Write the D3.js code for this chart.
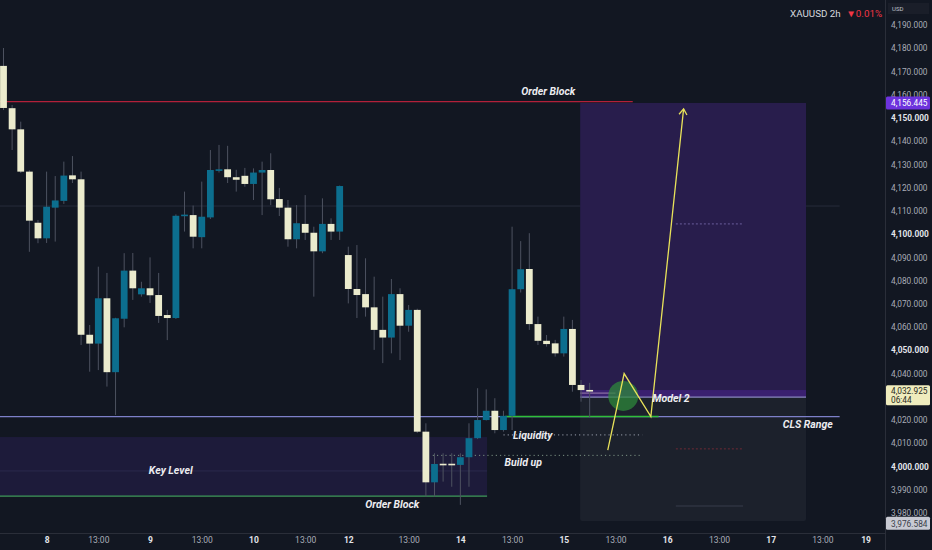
<!DOCTYPE html>
<html><head><meta charset="utf-8">
<script src="https://cdn.jsdelivr.net/npm/d3@7"></script>
<style>html,body{margin:0;padding:0;background:#121722;}svg{display:block;}</style>
</head><body>
<svg id="chart" width="932" height="550"></svg>
<script>
// ---- candle data (XAUUSD 2h) ----
const opens  = [4172.4,4154.2,4145.1,4126.9,4104.9,4098.2,4111.4,4114.3,4125.3,4123.6,4056.7,4052.9,4072.4,4040.6,4063.6,4084.3,4074.1,4076.7,4073.8,4065.2,4063.9,4107.9,4108.2,4098.7,4107.2,4127.6,4127.9,4124.5,4125.1,4121.6,4126.5,4127.6,4115.1,4111.4,4097.8,4104.4,4100.6,4092.6,4104.4,4101.1,4091.0,4076.4,4074.2,4068.5,4058.8,4055.5,4074.2,4060.6,4067.4,4015.0,3993.2,4001.2,4001.2,4000.7,4004.0,4012.2,4020.0,4024.0,4015.7,4021.8,4076.3,4085.0,4061.3,4054.1,4053.0,4048.7,4059.2,4035.1,4032.95];
const highs  = [4180.1,4155.6,4148.4,4127.5,4106.1,4126.9,4125.0,4131.2,4133.6,4126.9,4060.9,4086.0,4083.3,4064.0,4091.8,4091.9,4079.5,4090.0,4083.3,4067.4,4108.5,4118.3,4112.3,4122.6,4136.2,4138.4,4138.0,4127.7,4128.5,4128.3,4131.2,4134.8,4119.9,4114.7,4112.5,4116.8,4103.2,4115.4,4106.8,4120.9,4094.6,4095.3,4089.6,4081.7,4073.1,4080.7,4076.7,4069.5,4067.9,4018.6,4005.7,4005.7,4005.7,4005.7,4018.6,4033.7,4033.2,4029.4,4024.0,4103.2,4097.0,4100.4,4064.5,4056.6,4054.5,4064.5,4063.1,4037.2,4036.0];
const lows   = [4153.4,4136.2,4126.3,4092.4,4096.1,4096.2,4096.8,4113.0,4122.0,4052.3,4040.8,4041.5,4034.4,4022.2,4059.9,4071.7,4073.1,4070.4,4061.8,4054.4,4063.5,4101.1,4093.9,4093.9,4106.5,4126.5,4122.0,4118.3,4120.4,4114.7,4108.2,4112.5,4107.8,4094.6,4093.9,4097.5,4073.1,4091.8,4097.5,4097.5,4070.2,4063.9,4064.5,4050.2,4044.5,4048.7,4045.8,4058.0,4014.4,3987.0,3987.0,3993.5,3991.3,3983.5,3991.3,4011.8,4019.8,4014.3,4015.0,4015.7,4074.9,4058.8,4052.3,4051.6,4047.3,4047.3,4032.2,4027.9,4021.0];
const closes = [4154.3,4145.1,4126.9,4105.8,4098.2,4111.8,4114.5,4125.2,4123.6,4056.7,4052.9,4072.4,4040.6,4063.8,4084.3,4076.7,4076.7,4073.7,4064.8,4063.9,4107.9,4108.4,4098.9,4107.5,4127.6,4127.9,4124.5,4123.4,4121.6,4126.5,4127.6,4115.0,4111.4,4097.8,4104.7,4100.6,4092.6,4104.4,4101.1,4120.7,4076.4,4073.8,4068.5,4058.8,4055.5,4074.2,4060.6,4067.4,4015.0,3993.2,4001.1,4001.0,4000.9,4004.0,4012.2,4020.0,4024.0,4015.7,4021.8,4076.3,4084.9,4061.3,4054.1,4052.7,4048.7,4059.2,4035.1,4032.9,4032.925];

// ---- axis ticks (4,030.000 is hidden behind the last-price tag) ----
const priceTicks = [4190,4180,4170,4160,4150,4140,4130,4120,4110,4100,4090,4080,4070,4060,4050,4040,4020,4010,4000,3990,3980];
const timeTickIdx = [5,11,17,23,29,35,40,47,53,59,65,71,77,83,89,95,100];
const timeTickLabels = ["8","13:00","9","13:00","10","13:00","12","13:00","14","13:00","15","13:00","16","13:00","17","13:00","19"];

// ---- drawing levels (prices) ----
const obTopLevel = 4157.0, targetPrice = 4156.445, entryPrice = 4029.9, lastPrice = 4032.925, stopPrice = 3976.584;
const clsLevel = 4021.5, keyTop = 4012.7, keyBottom = 3987.3, keyMid = 3998.1;
const liquidityLevel = 4013.6, buildUpLevel = 4004.8, faintLevel = 4112.1;
const targetMid = 4104.4, stopMid = 4007.6, stopLow = 3983.0;
// projected path (bar index, price)
const pathIdx = [70.1, 72.0, 75.1, 78.9];
const pathPrice = [4007.1, 4040.0, 4021.5, 4153.9];

const W = 932, H = 550, plotR = 885, plotB = 533;
const svg = d3.select("#chart");
const x = d3.scaleLinear().domain([0, 100]).range([3.5, 865.5]);
const y = d3.scaleLinear().domain([3980, 4190]).range([513, 25]);
const FONT = "Roboto, 'Noto Sans', sans-serif";

svg.append("rect").attr("width", W).attr("height", H).attr("fill", "#121722");
svg.append("defs").append("clipPath").attr("id", "plot")
  .append("rect").attr("x", 0).attr("y", 0).attr("width", plotR).attr("height", plotB);
const g = svg.append("g").attr("clip-path", "url(#plot)");

function hline(p, i0, i1, color, w, dash, op) {
  g.append("line").attr("x1", x(i0)).attr("x2", x(i1)).attr("y1", y(p)).attr("y2", y(p))
    .attr("stroke", color).attr("stroke-width", w || 1)
    .attr("stroke-dasharray", dash || null).attr("opacity", op == null ? 1 : op);
}
function box(i0, i1, p0, p1, color, op) {
  return g.append("rect").attr("x", x(i0)).attr("width", x(i1) - x(i0))
    .attr("y", y(p0)).attr("height", y(p1) - y(p0)).attr("fill", color).attr("opacity", op == null ? 1 : op);
}

// faint horizontal
hline(faintLevel, -2, 97, "#272c3a", 1);
// key level zone
box(-2, 56.1, keyTop, keyBottom, "#1d1b3a");
hline(keyMid, -2, 56.1, "#2b2a4d", 1);
// long position tool
box(66.9, 93.1, targetPrice, entryPrice, "#281d4c");
box(66.9, 93.1, lastPrice, entryPrice, "#3a2070");
box(66.9, 93.1, entryPrice, stopPrice, "#1c212c").attr("rx", 2);
hline(entryPrice, 66.9, 93.1, "#8a86c0", 1.2);
hline(targetMid, 78.0, 85.8, "#7b6fb0", 1, "2,2", 0.8);
hline(stopMid, 78.0, 85.8, "#6e2a36", 1, "2,2");
hline(stopLow, 78.0, 85.8, "#2e3340", 1.5);
hline(4031.6, 66.9, 71.0, "#c9a7c9", 1, null, 0.7);

// Order block (top, red)
hline(obTopLevel, -2, 73.0, "#b2203a", 1.3);
// CLS range line
hline(clsLevel, -2, 97.0, "#7d80c9", 1.3);
hline(clsLevel, 58.2, 76.0, "#2fbf3a", 1.5);
// order block bottom (green)
hline(keyBottom, -2, 56.1, "#3f9a5a", 1.3);
// liquidity & build up dotted
hline(liquidityLevel, 58.0, 74.1, "#9aa0ae", 1, "1.2,3");
hline(buildUpLevel, 49.8, 74.1, "#7a9082", 1, "1.2,3");

// candles
const idx = d3.range(opens.length);
const cg = g.append("g");
cg.selectAll("line.wick").data(idx).join("line").attr("class", "wick")
  .attr("x1", i => x(i)).attr("x2", i => x(i))
  .attr("y1", i => y(highs[i])).attr("y2", i => y(lows[i]))
  .attr("stroke", "#4d5260").attr("stroke-width", 1);
cg.selectAll("rect.body").data(idx).join("rect").attr("class", "body")
  .attr("x", i => x(i) - 3.4).attr("width", 6.8)
  .attr("y", i => y(Math.max(opens[i], closes[i])))
  .attr("height", i => Math.max(1.6, Math.abs(y(opens[i]) - y(closes[i]))))
  .attr("fill", i => closes[i] > opens[i] ? "#0c6e8e" : "#ebebcd");

// green circle
g.append("circle").attr("cx", x(71.9)).attr("cy", y(4030.4)).attr("r", 15)
  .attr("fill", "#2e8b3a").attr("opacity", 0.72);

// projected path
const pts = pathIdx.map((d, i) => [x(d), y(pathPrice[i])]);
g.append("path").attr("d", d3.line()(pts)).attr("fill", "none")
  .attr("stroke", "#e8e25a").attr("stroke-width", 1.3);
(function arrow() {
  const a = pts[pts.length - 1], b = pts[pts.length - 2];
  const ang = Math.atan2(a[1] - b[1], a[0] - b[0]);
  const L = 7, s = 0.6;
  const p1 = [a[0] - L * Math.cos(ang - s), a[1] - L * Math.sin(ang - s)];
  const p2 = [a[0] - L * Math.cos(ang + s), a[1] - L * Math.sin(ang + s)];
  g.append("path").attr("d", d3.line()([p1, a, p2])).attr("fill", "none")
    .attr("stroke", "#e8e25a").attr("stroke-width", 1.3);
})();

// annotation labels
const labels = [
  ["Order Block", 63.2, obTopLevel, 0, -10],
  ["Key Level", 19.4, keyMid, 0, 0],
  ["Order Block", 45.1, keyBottom, 0, 8],
  ["Liquidity", 61.4, liquidityLevel, 0, 1],
  ["Build up", 60.3, buildUpLevel, 0, 7],
  ["CLS Range", 93.3, clsLevel, 0, 8],
];
labels.forEach(l => {
  g.append("text").attr("x", x(l[1]) + l[3]).attr("y", y(l[2]) + l[4])
    .attr("text-anchor", "middle").attr("dominant-baseline", "central")
    .attr("font-family", FONT).attr("font-size", 10.5).attr("font-weight", 700)
    .attr("font-style", "italic").attr("fill", "#ececf0").text(l[0]);
});
g.append("text").attr("x", x(75.3)).attr("y", y(entryPrice) + 1.5)
  .attr("text-anchor", "start").attr("dominant-baseline", "central")
  .attr("font-family", FONT).attr("font-size", 10.5).attr("font-weight", 700)
  .attr("font-style", "italic").attr("fill", "#ececf0").text("Model 2");

// separators
svg.append("line").attr("x1", plotR + 0.5).attr("x2", plotR + 0.5).attr("y1", 0).attr("y2", H).attr("stroke", "#2a2e39");
svg.append("line").attr("x1", 0).attr("x2", plotR).attr("y1", plotB + 0.5).attr("y2", plotB + 0.5).attr("stroke", "#2a2e39");

// y axis
const fmt = d3.format(",.3f");
const yAxis = svg.append("g").attr("transform", `translate(${plotR},0)`)
  .call(d3.axisRight(y).tickValues(priceTicks).tickSize(0).tickPadding(6).tickFormat(fmt));
yAxis.select(".domain").remove();
yAxis.selectAll("text").attr("font-family", FONT).attr("font-size", 8.3)
  .attr("fill", d => d % 50 === 0 ? "#e3e5ea" : "#a9adb8")
  .attr("font-weight", d => d % 50 === 0 ? 700 : 400);

// x axis
const xAxis = svg.append("g").attr("transform", `translate(0,${plotB})`)
  .call(d3.axisBottom(x).tickValues(timeTickIdx).tickSize(0).tickPadding(4)
    .tickFormat((d, i) => timeTickLabels[i]));
xAxis.select(".domain").remove();
xAxis.selectAll("text").attr("font-family", FONT).attr("font-size", 8.5)
  .attr("fill", (d, i) => timeTickLabels[i].includes(":") ? "#a9adb8" : "#e3e5ea")
  .attr("font-weight", (d, i) => timeTickLabels[i].includes(":") ? 400 : 700);

// price tags
function tag(p, bg, h) {
  const hh = h || 13;
  const t = svg.append("g");
  t.append("rect").attr("x", plotR + 1).attr("y", y(p) - hh / 2).attr("width", 44).attr("height", hh)
    .attr("rx", 1.5).attr("fill", bg);
  return t;
}
tag(targetPrice, "#6d33dd").append("text").attr("x", plotR + 6).attr("y", y(targetPrice) + 0.5)
  .attr("dominant-baseline", "central").attr("font-family", FONT).attr("font-size", 8.3)
  .attr("fill", "#ffffff").text(fmt(targetPrice));
const lt = tag(lastPrice - 2.3, "#efecbd", 20);
lt.append("text").attr("x", plotR + 6).attr("y", y(lastPrice) + 0.5).attr("dominant-baseline", "central")
  .attr("font-family", FONT).attr("font-size", 8.3).attr("fill", "#2a2a22").text(fmt(lastPrice));
lt.append("text").attr("x", plotR + 6).attr("y", y(lastPrice) + 9.5).attr("dominant-baseline", "central")
  .attr("font-family", FONT).attr("font-size", 8.3).attr("fill", "#2a2a22").text("06:44");
tag(stopPrice - 1.0, "#c8cad3").append("text").attr("x", plotR + 6).attr("y", y(stopPrice - 1.0) + 0.5)
  .attr("dominant-baseline", "central").attr("font-family", FONT).attr("font-size", 8.3)
  .attr("fill", "#3a3e49").text(fmt(stopPrice));

// USD box
svg.append("rect").attr("x", 888).attr("y", 3).attr("width", 41).attr("height", 11).attr("fill", "#1a1e29");
svg.append("text").attr("x", 892).attr("y", 8.5).attr("dominant-baseline", "central")
  .attr("font-family", FONT).attr("font-size", 6).attr("fill", "#c0c3cc").text("USD");

// title
const title = svg.append("text").attr("x", 790).attr("y", 17).attr("font-family", FONT).attr("font-size", 9.8);
title.append("tspan").attr("fill", "#d6d8de").text("XAUUSD 2h ");
title.append("tspan").attr("fill", "#f23645").attr("dx", 3).text("▼0.01%");
</script>
</body></html>
